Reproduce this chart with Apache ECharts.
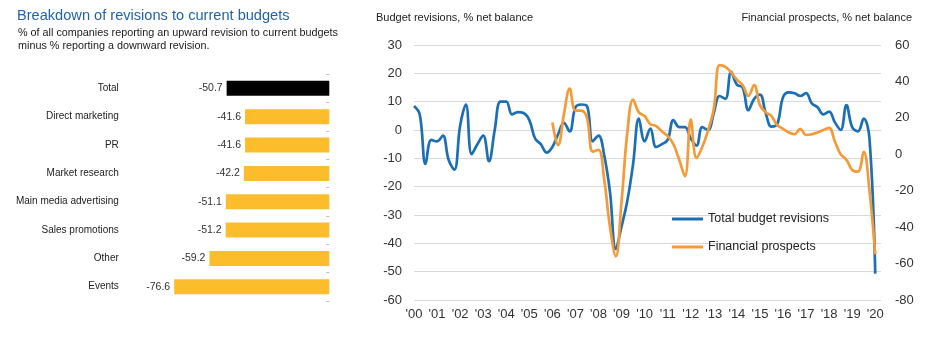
<!DOCTYPE html>
<html><head><meta charset="utf-8">
<script src="https://cdn.jsdelivr.net/npm/echarts@6/dist/echarts.min.js"></script>
<style>html,body{margin:0;padding:0;background:#fff}#c{width:940px;height:342px}</style>
</head><body><div id="c"></div>
<script>
// ---- Left panel: breakdown of revisions ----
const barCategories = ['Total','Direct marketing','PR','Market research','Main media advertising','Sales promotions','Other','Events'];
const barValues = [-50.7,-41.6,-41.6,-42.2,-51.1,-51.2,-59.2,-76.6];
const barColors = ['#000000','#fbbd2c','#fbbd2c','#fbbd2c','#fbbd2c','#fbbd2c','#fbbd2c','#fbbd2c'];

// ---- Right panel: quarterly series 2000 Q1 .. 2020 Q1 ----
const firstYear = 2000, lastYear = 2020;
const quarterCount = 82; // through 2020 Q2 (empty) so the axis runs a little past the last point
const totalBudgetRevisions = [
  8.5,5.5,-12,-3.5,  -4,-2,-10.5,-14,  1.5,9,-8.5,-5,  -2,-11,0,10,  10,5.5,6.3,6,
  3.5,-3,-5,-8,  -6,-1.5,2.5,-0.5,  8,9,8.5,-4,  -2,-9,-22,-42,  -34,-25,-12,4,
  -4,0.5,-6,-5,  -3.5,3.5,1,1,  -3,-5.5,1,0,  6,12,11,20.5,  16,15,7,11,
  12.5,6,1.2,2,  11.5,13.3,13,12,  13,9.4,8,5.5,  6.5,2.7,0,8.8,  1,-0.5,4,-3,
  -50.7
];
const financialProspects = [
  null,null,null,null, null,null,null,null, null,null,null,null, null,null,null,null, null,null,null,null,
  null,null,null,null, 17.5,5,22,36, 24,24,20,1.5, 2.5,-14,-40,-56, -26,12,30,23,
  21,16.5,15.5,12.5, 10,5.5,-3,-12, 19,-2,4,13, 25,49,48,45, 41,38,32,38,
  27,23,21,16, 14,12,11,14, 10.6,11,12,13.3, 14.5,7,0,-3, -8.6,-9.5,1.4,-20,
  -55
];
const leftTicks = {min:-60, max:30, step:10};
const rightTicks = {min:-80, max:60, step:20};

const quarters = [];
for (let y = firstYear; y <= lastYear; y++) {
  for (let q = 1; q <= 4; q++) {
    if (quarters.length < quarterCount) quarters.push(y + ' Q' + q);
  }
}

const FONT = 'Arial, "Liberation Sans", sans-serif';
const chart = echarts.init(document.getElementById('c'), null, {renderer:'canvas'});
chart.setOption({
  animation: false,
  backgroundColor: '#ffffff',
  textStyle: {fontFamily: FONT},
  title: [
    {text:'Breakdown of revisions to current budgets', left:17, top:8, padding:0,
     textStyle:{fontFamily:FONT, fontSize:14.6, fontWeight:'normal', color:'#1f63ad'}},
    {text:'% of all companies reporting an upward revision to current budgets\nminus % reporting a downward revision.', left:18, top:26.5, padding:0,
     textStyle:{fontFamily:FONT, fontSize:10.8, lineHeight:13, fontWeight:'normal', color:'#1a1a1a'}},
    {text:'Budget revisions, % net balance', left:376, top:12.5, padding:0,
     textStyle:{fontFamily:FONT, fontSize:11, fontWeight:'normal', color:'#222'}},
    {text:'Financial prospects, % net balance', right:28, top:12.5, padding:0,
     textStyle:{fontFamily:FONT, fontSize:11, fontWeight:'normal', color:'#222'}}
  ],
  legend: {
    data:['Total budget revisions','Financial prospects'],
    orient:'vertical', left:672, top:211, padding:0,
    icon:'rect', itemWidth:31, itemHeight:3, itemGap:12,
    textStyle:{fontFamily:FONT, fontSize:12.5, color:'#222', lineHeight:16}
  },
  grid: [
    {left:126.8, right:610.7, top:74.2, bottom:41.1},
    {left:414, right:59, top:45, bottom:42}
  ],
  xAxis: [
    {type:'value', gridIndex:0, min:-100, max:0, show:false},
    {type:'category', gridIndex:1, data:quarters, boundaryGap:false,
     axisLine:{lineStyle:{color:'#d9d9d9'}}, axisTick:{show:false},
     axisLabel:{interval:3, margin:8, fontSize:13, color:'#333', fontFamily:FONT,
       formatter: v => "'" + v.slice(2,4)}}
  ],
  yAxis: [
    {type:'category', gridIndex:0, data:barCategories, inverse:true,
     axisLine:{show:false}, axisTick:{show:false},
     axisLabel:{margin:8, fontSize:10, color:'#222', fontFamily:FONT}},
    {type:'category', gridIndex:0, data:barCategories, inverse:true, position:'right',
     axisLine:{show:false}, axisTick:{show:true, inside:true, length:3, lineStyle:{color:'#bbb'}},
     axisLabel:{show:false}},
    {type:'value', gridIndex:1, min:leftTicks.min, max:leftTicks.max, interval:leftTicks.step, position:'left',
     axisLine:{show:false}, axisTick:{show:false},
     splitLine:{lineStyle:{color:'#d9d9d9', width:1}},
     axisLabel:{margin:12, fontSize:13, color:'#333', fontFamily:FONT}},
    {type:'value', gridIndex:1, min:rightTicks.min, max:rightTicks.max, interval:rightTicks.step, position:'right',
     axisLine:{show:false}, axisTick:{show:false}, splitLine:{show:false},
     axisLabel:{margin:14, fontSize:13, color:'#333', fontFamily:FONT}}
  ],
  series: [
    {type:'bar', xAxisIndex:0, yAxisIndex:0, barWidth:15,
     data: barValues.map((v,i) => ({value:v, itemStyle:{color:barColors[i]}})),
     label:{show:true, position:'left', distance:4, fontSize:10.5, color:'#333', fontFamily:FONT,
       formatter: p => p.value.toFixed(1)}},
    {name:'Total budget revisions', type:'line', xAxisIndex:1, yAxisIndex:2,
     data: totalBudgetRevisions, smooth:0.4, symbol:'none',
     itemStyle:{color:'#1c6fb4'}, lineStyle:{color:'#1c6fb4', width:2.7}},
    {name:'Financial prospects', type:'line', xAxisIndex:1, yAxisIndex:3,
     data: financialProspects, smooth:0.4, symbol:'none',
     itemStyle:{color:'#f59a37'}, lineStyle:{color:'#f59a37', width:2.7}}
  ]
});
</script>
</body></html>
